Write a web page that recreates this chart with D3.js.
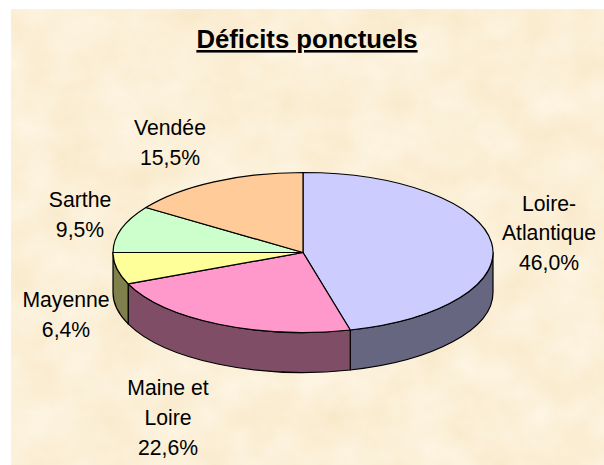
<!DOCTYPE html>
<html><head><meta charset="utf-8">
<script src="https://cdnjs.cloudflare.com/ajax/libs/d3/7.8.5/d3.min.js"></script>
<style>html,body{margin:0;padding:0;background:#fff}svg{display:block}</style>
</head><body><svg id="c" width="604" height="465"></svg>
<script>
const categories = ["Loire-Atlantique","Maine et Loire","Mayenne","Sarthe","Vendée"];
const values = [46.0,22.6,6.4,9.5,15.5];
const labelLines = [["Loire-","Atlantique"],["Maine et","Loire"],["Mayenne"],["Sarthe"],["Vendée"]];
const topColors = ["#CCCCFF","#FF99CC","#FFFF99","#CCFFCC","#FFCC99"];
const sideColors = ["#666680","#804D66","#80804D","#668066","#806650"];
const titleText = "Déficits ponctuels";

const svg = d3.select("#c");
const cx=303, cy=252.5, rx=190, ry=80, depth=40;
const defs = svg.append("defs");
const f = defs.append("filter").attr("id","paper").attr("x",0).attr("y",0).attr("width","100%").attr("height","100%")
 .attr("color-interpolation-filters","sRGB");
f.append("feTurbulence").attr("type","fractalNoise").attr("baseFrequency","0.02 0.025").attr("numOctaves",5).attr("seed",7).attr("result","n");
f.append("feColorMatrix").attr("in","n").attr("type","matrix")
 .attr("values","0 0 0 0.025 0.972  0 0 0 0.06 0.908  0 0 0 0.13 0.778  0 0 0 0 1");
svg.append("rect").attr("x",11).attr("y",9).attr("width",593).attr("height",456).attr("filter","url(#paper)");

const pie = d3.pie().sort(null).value(d=>d)(values);
const pt=(a,off=0)=>[cx+rx*Math.sin(a), cy-ry*Math.cos(a)+off];
const front=[Math.PI/2,3*Math.PI/2];
pie.forEach((p,i)=>{
  const a0=Math.max(p.startAngle,front[0]), a1=Math.min(p.endAngle,front[1]);
  if(a1<=a0) return;
  const A=pt(a0),B=pt(a1),C=pt(a1,depth),D=pt(a0,depth);
  svg.append("path").attr("fill",sideColors[i]).attr("stroke","#000").attr("stroke-width",1.2).attr("stroke-linejoin","round")
   .attr("d",`M${A}A${rx} ${ry} 0 0 1 ${B}L${C}A${rx} ${ry} 0 0 0 ${D}Z`);
});
const arc=d3.arc().innerRadius(0).outerRadius(rx);
const g=svg.append("g").attr("transform",`translate(${cx},${cy}) scale(1,${ry/rx})`);
g.selectAll("path").data(pie).join("path").attr("d",arc)
 .attr("fill",(d,i)=>topColors[i]).attr("stroke","#000").attr("stroke-width",1.2)
 .attr("vector-effect","non-scaling-stroke").attr("stroke-linejoin","round");

svg.append("text").attr("x",307).attr("y",48).attr("text-anchor","middle")
 .attr("font-family","'Liberation Sans',Arial,sans-serif").attr("font-weight",700).attr("font-size",25.7)
 .attr("text-decoration","underline").attr("fill","#000").text(titleText);

const labelPos=[[549,210.5],[168,395],[66,307],[80,207],[170,135]];
const fmt=v=>v.toFixed(1).replace(".",",")+"%";
labelLines.forEach((lines,i)=>{
  const t=svg.append("text").attr("text-anchor","middle").attr("font-family","'Liberation Sans',Arial,sans-serif").attr("font-size",21.2).attr("fill","#000");
  lines.concat(fmt(values[i])).forEach((s,k)=>{
    t.append("tspan").attr("x",labelPos[i][0]).attr("y",labelPos[i][1]+k*29.8).text(s);
  });
});
</script></body></html>
